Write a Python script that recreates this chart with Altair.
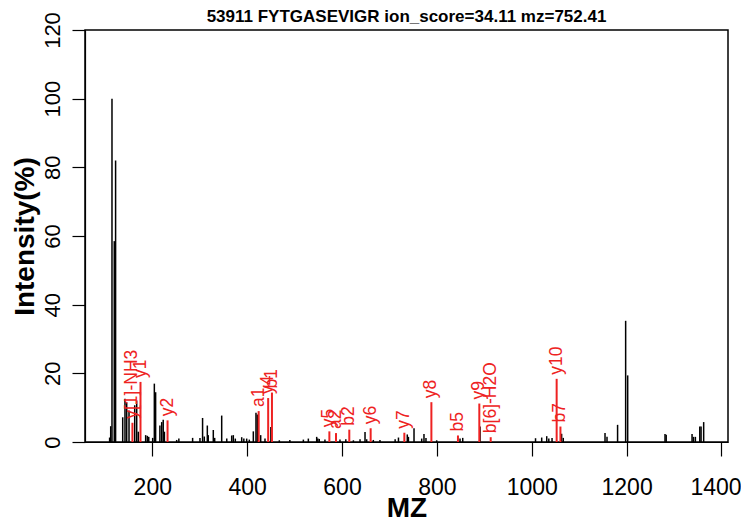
import altair as alt
import pandas as pd

# Unannotated peaks (black)
black_mz = [110.0, 112.3, 115.0, 119.8, 122.6,
            137.6, 142.4, 146.0, 150.9, 162.9, 167.1, 170.5,
            186.0, 189.5, 192.5, 200.8, 204.3, 207.0,
            216.0, 219.8, 223.0, 225.5,
            251.4, 256.0, 285.0, 300.5, 306.0, 309.6, 316.0, 318.0, 328.6, 331.5,
            346.3, 357.0, 367.4, 370.8, 375.0, 388.5, 393.0, 399.0, 404.5, 413.0,
            418.6, 421.5, 428.5, 437.6, 450.0, 467.8, 490.0, 518.5, 529.0, 546.6,
            549.0, 552.0, 564.0, 595.7, 608.0, 624.0, 638.0, 648.5, 652.0, 666.0,
            680.0, 712.0, 719.0, 737.6, 740.0, 751.8, 768.0, 772.8, 777.0, 799.6,
            848.8, 854.5, 891.0, 1008.0, 1021.0, 1031.6, 1036.0, 1042.8, 1063.0,
            1066.5, 1154.5, 1158.7, 1181.0, 1198.0, 1202.3, 1281.0, 1283.5,
            1338.0, 1341.0, 1345.0, 1354.3, 1357.0, 1362.5]
black_int = [1.3, 4.6, 100.0, 58.5, 82.0,
             7.2, 12.6, 11.6, 9.2, 10.7, 12.1, 3.0,
             2.0, 1.8, 1.5, 1.2, 17.0, 14.5,
             4.8, 5.8, 6.5, 3.0,
             0.6, 1.0, 1.2, 1.2, 7.0, 1.6, 4.8, 2.0, 3.5, 1.2,
             7.7, 1.0, 1.9, 2.0, 1.0, 1.4, 1.0, 1.0, 0.7, 3.1,
             8.5, 8.0, 2.0, 1.0, 4.4, 0.5, 0.6, 0.7, 1.0, 1.5,
             1.0, 0.9, 0.7, 0.7, 0.8, 0.5, 0.8, 2.9, 0.8, 0.6,
             0.6, 0.8, 1.3, 2.2, 1.5, 4.0, 1.0, 2.3, 1.2, 0.5,
             1.0, 1.2, 4.5, 1.1, 1.3, 1.7, 1.0, 1.2, 2.4,
             1.2, 2.6, 1.5, 5.0, 35.3, 19.4, 2.3, 2.1,
             2.3, 1.5, 1.5, 4.5, 4.5, 5.8]

# Annotated fragment ions (red)
ion_labels = ["y[1]-NH3", "y1", "y2", "a1", "y4", "b1", "y5", "a2", "b2",
              "y6", "y7", "y8", "b5", "y9", "b[6]-H2O", "y10", "b7"]
ion_mz = [158.09, 175.12, 232.14, 424.29, 444.29, 452.28, 573.33, 587.35, 615.34,
          660.37, 731.40, 788.42, 844.45, 889.47, 913.47, 1052.53, 1060.52]
ion_int = [5.6, 17.5, 6.3, 9.0, 12.8, 14.4, 3.1, 2.6, 3.6,
           4.0, 2.7, 11.6, 1.9, 11.2, 1.4, 18.4, 4.5]

x_ticks = [200, 400, 600, 800, 1000, 1200, 1400]
y_ticks = [0, 20, 40, 60, 80, 100, 120]

title_text = "53911 FYTGASEVIGR ion_score=34.11 mz=752.41"

black_df = pd.DataFrame({"mz": black_mz, "intensity": black_int})
ion_df = pd.DataFrame({"mz": ion_mz, "intensity": ion_int, "label": ion_labels})
title_df = pd.DataFrame({"t": [title_text]})

FONT = "Liberation Sans"

x_scale = alt.Scale(domain=[58.1, 1413.8], nice=False, zero=False)
y_scale = alt.Scale(domain=[0, 120], nice=False)

x_axis = alt.Axis(values=x_ticks, format="d", title="MZ", grid=False, tickSize=14,
                  tickColor="black", tickWidth=1.2, domainColor="black", domainWidth=1.2,
                  labelFont=FONT, labelFontSize=23, labelColor="black", labelPadding=20,
                  labelFlush=False, labelOverlap=False,
                  labelOffset={"condition": {"test": "datum.value == 1400", "value": -6},
                               "value": 0},
                  titleFont=FONT, titleFontSize=28, titleFontWeight="bold",
                  titleColor="black", titleBaseline="alphabetic", titleY=74)
y_axis = alt.Axis(values=y_ticks, title="Intensity(%)", grid=False, tickSize=13,
                  tickColor="black", tickWidth=1.2, domainColor="black", domainWidth=1.2,
                  labelFont=FONT, labelFontSize=22, labelColor="black", labelAngle=270,
                  labelAlign="center", labelBaseline="bottom", labelPadding=8,
                  labelFlush=False, labelOverlap=False,
                  titleFont=FONT, titleFontSize=28, titleFontWeight="bold",
                  titleColor="black", titleX=-52, titleBaseline="alphabetic")

black = alt.Chart(black_df).mark_rule(color="black", strokeWidth=1.5).encode(
    x=alt.X("mz:Q", scale=x_scale, axis=x_axis),
    y=alt.Y("intensity:Q", scale=y_scale, axis=y_axis),
    y2=alt.datum(0),
)

red = alt.Chart(ion_df).mark_rule(color="#EE2222", strokeWidth=2).encode(
    x=alt.X("mz:Q", scale=x_scale),
    y=alt.Y("intensity:Q", scale=y_scale),
    y2=alt.datum(0),
)

labels = alt.Chart(ion_df).mark_text(
    color="#EE2222", font=FONT, fontSize=17.5, angle=270, align="left",
    baseline="middle", dx=4,
).encode(
    x=alt.X("mz:Q", scale=x_scale),
    y=alt.Y("intensity:Q", scale=y_scale),
    text="label:N",
)

title = alt.Chart(title_df).mark_text(
    font=FONT, fontSize=17, fontWeight="bold", color="black",
    align="center", baseline="alphabetic",
).encode(
    x=alt.value(321.5),
    y=alt.value(-8),
    text="t:N",
)

chart = alt.layer(black, red, labels, title).properties(
    width=643,
    height=412,
    background="white",
    autosize=alt.AutoSizeParams(type="none"),
    padding={"left": 77, "top": 22, "right": 13, "bottom": 79},
).configure_view(stroke="black", strokeWidth=1.5)

chart.save("out.html", embed_options={"renderer": "svg", "actions": False})
